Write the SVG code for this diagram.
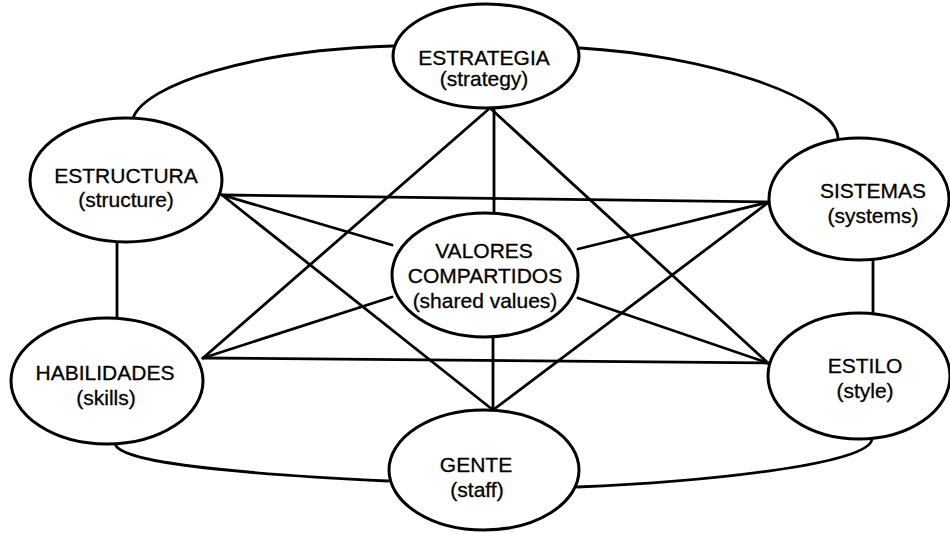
<svg xmlns="http://www.w3.org/2000/svg" width="950" height="533" viewBox="0 0 950 533">
  <style>
    .edge { fill: none; stroke: #000; stroke-width: 2.8; stroke-linecap: round; stroke-linejoin: round; }
    .node ellipse { fill: #fff; stroke: #000; stroke-width: 3; }
    .node text { font-family: "Liberation Sans", Arial, sans-serif; font-size: 21px; fill: #000; stroke: #000; stroke-width: 0.3; text-anchor: middle; }
  </style>
  <rect width="950" height="533" fill="#fff"/>

  <!-- connectors: outer ring, two triangles, spokes to the centre -->
  <g id="connectors">
    <!-- outer ring -->
    <path class="edge" d="M133,118 C145,85 250,50 393,46"/>
    <path class="edge" d="M580,48 C700,55 835,95 838,138"/>
    <line class="edge" x1="873" y1="260" x2="873" y2="313"/>
    <path class="edge" d="M577,487 C700,482 870,465 872,439"/>
    <path class="edge" d="M115,444 C120,460 200,472 388,481"/>
    <line class="edge" x1="117" y1="242" x2="117" y2="318"/>
    <!-- triangle: ESTRATEGIA / HABILIDADES / ESTILO -->
    <line class="edge" x1="490" y1="108" x2="203" y2="358"/>
    <line class="edge" x1="490" y1="108" x2="768" y2="363"/>
    <line class="edge" x1="203" y1="358" x2="768" y2="363"/>
    <!-- triangle: GENTE / ESTRUCTURA / SISTEMAS -->
    <line class="edge" x1="222" y1="195" x2="769" y2="202"/>
    <line class="edge" x1="222" y1="195" x2="493" y2="410"/>
    <line class="edge" x1="769" y1="202" x2="493" y2="410"/>
    <!-- spokes to VALORES COMPARTIDOS -->
    <line class="edge" x1="494" y1="108" x2="494" y2="214"/>
    <line class="edge" x1="493" y1="336" x2="493" y2="410"/>
    <line class="edge" x1="222" y1="195" x2="392" y2="245"/>
    <line class="edge" x1="203" y1="358" x2="392" y2="297"/>
    <line class="edge" x1="769" y1="202" x2="578" y2="249"/>
    <line class="edge" x1="768" y1="363" x2="578" y2="298"/>
  </g>

  <g id="estrategia" class="node">
    <ellipse cx="486" cy="56" rx="93" ry="52"/>
    <text x="484" y="65">ESTRATEGIA</text>
    <text x="484" y="86">(strategy)</text>
  </g>

  <g id="estructura" class="node">
    <ellipse cx="126" cy="180" rx="96" ry="62"/>
    <text x="126" y="183">ESTRUCTURA</text>
    <text x="126" y="207">(structure)</text>
  </g>

  <g id="sistemas" class="node">
    <ellipse cx="859" cy="199" rx="90" ry="61"/>
    <text x="873" y="198">SISTEMAS</text>
    <text x="873" y="223">(systems)</text>
  </g>

  <g id="valores" class="node">
    <ellipse cx="485" cy="275" rx="93" ry="62"/>
    <text x="484" y="258">VALORES</text>
    <text x="485" y="283">COMPARTIDOS</text>
    <text x="485" y="308">(shared values)</text>
  </g>

  <g id="habilidades" class="node">
    <ellipse cx="107" cy="381" rx="96" ry="63"/>
    <text x="105" y="380">HABILIDADES</text>
    <text x="106" y="405">(skills)</text>
  </g>

  <g id="estilo" class="node">
    <ellipse cx="859" cy="376" rx="91" ry="63"/>
    <text x="865" y="373">ESTILO</text>
    <text x="865" y="398">(style)</text>
  </g>

  <g id="gente" class="node">
    <ellipse cx="484" cy="470" rx="95" ry="60"/>
    <text x="476" y="472">GENTE</text>
    <text x="477" y="497">(staff)</text>
  </g>
</svg>
